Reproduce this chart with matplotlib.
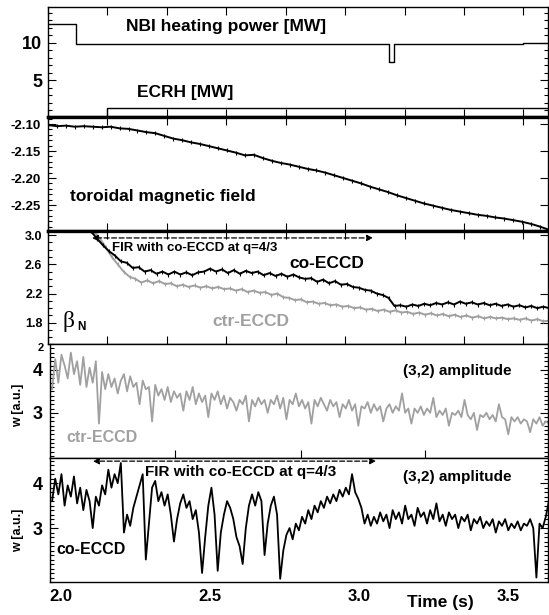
import numpy as np
import matplotlib.pyplot as plt
from matplotlib.ticker import MultipleLocator, FixedLocator, NullLocator

plt.rcParams['font.family'] = ['Liberation Sans', 'DejaVu Sans']
plt.rcParams['font.weight'] = 'bold'

# ---- values ----
nbi_t = [2.0, 2.095, 3.148, 3.165, 3.60, 3.683]
nbi_mw = [12.5, 9.9, 7.45, 9.9, 10.0, 10.0]
ecrh_t = [2.0, 2.2, 3.683]
ecrh_mw = [0.0, 1.35, 1.35]

bt_span = (2.0, 3.687)
bt = [-2.102, -2.104, -2.103, -2.105, -2.104, -2.105, -2.106, -2.105, -2.108, -2.109,
      -2.112, -2.115, -2.117, -2.122, -2.127, -2.130, -2.134, -2.137, -2.141, -2.145,
      -2.149, -2.153, -2.158, -2.157, -2.163, -2.168, -2.172, -2.175, -2.179, -2.183,
      -2.186, -2.190, -2.195, -2.200, -2.205, -2.210, -2.216, -2.221, -2.226, -2.232,
      -2.237, -2.242, -2.247, -2.251, -2.255, -2.259, -2.262, -2.265, -2.268, -2.270,
      -2.273, -2.275, -2.278, -2.281, -2.285, -2.290, -2.296]

beta_co_span = (2.145, 3.687)
beta_co = [3.05, 2.95, 2.86, 2.78, 2.72, 2.64, 2.62, 2.55, 2.56, 2.50,
           2.52, 2.47, 2.50, 2.46, 2.50, 2.46, 2.49, 2.45, 2.49, 2.50,
           2.54, 2.50, 2.53, 2.48, 2.52, 2.47, 2.51, 2.48, 2.50, 2.45,
           2.48, 2.44, 2.47, 2.43, 2.46, 2.42, 2.40, 2.41, 2.36, 2.39,
           2.34, 2.37, 2.32, 2.33, 2.29, 2.28, 2.25, 2.24, 2.20, 2.18,
           2.14, 2.03, 2.04, 2.02, 2.05, 2.03, 2.06, 2.04, 2.07, 2.05,
           2.08, 2.05, 2.09, 2.06, 2.08, 2.05, 2.07, 2.04, 2.06, 2.03,
           2.05, 2.02, 2.04, 2.01, 2.03, 2.00, 2.02, 2.00]
beta_ctr_span = (2.155, 3.687)
beta_ctr = [3.05, 2.95, 2.83, 2.70, 2.60, 2.50, 2.43, 2.40, 2.35, 2.38,
            2.34, 2.37, 2.33, 2.34, 2.30, 2.32, 2.29, 2.31, 2.28, 2.30,
            2.27, 2.29, 2.26, 2.27, 2.24, 2.26, 2.22, 2.24, 2.21, 2.22,
            2.18, 2.20, 2.15, 2.14, 2.11, 2.12, 2.08, 2.09, 2.06, 2.07,
            2.04, 2.05, 2.02, 2.03, 2.00, 2.01, 1.98, 1.99, 1.96, 1.98,
            1.95, 1.97, 1.94, 1.95, 1.92, 1.94, 1.91, 1.93, 1.90, 1.92,
            1.89, 1.91, 1.88, 1.90, 1.87, 1.89, 1.86, 1.88, 1.86, 1.87,
            1.85, 1.86, 1.84, 1.86, 1.83, 1.85, 1.82, 1.83]

w_span = (1.97, 3.637)
w_ctr = [3.55, 4.25, 3.70, 4.35, 4.10, 3.80, 4.40, 3.90, 4.20, 3.65,
         4.30, 3.60, 4.05, 3.70, 4.20, 2.75, 3.95, 3.55, 3.90, 3.60,
         3.80, 3.45, 3.75, 3.90, 3.50, 3.85, 3.60, 3.70, 3.20, 3.75,
         3.55, 3.60, 2.80, 3.65, 3.40, 3.55, 3.30, 3.60, 3.25, 3.50,
         3.35, 3.45, 3.05, 3.50, 3.30, 3.60, 3.20, 3.45, 3.25, 3.40,
         2.90, 3.45, 3.30, 3.50, 3.20, 3.40, 3.10, 3.35, 3.25, 3.05,
         3.30, 3.20, 3.40, 2.80, 3.30, 3.15, 3.35, 3.20, 3.30, 3.00,
         3.30, 3.20, 3.40, 3.10, 3.35, 2.85, 3.30, 3.20, 3.45, 3.15,
         3.30, 3.10, 3.25, 2.75, 3.30, 3.15, 3.35, 3.20, 3.05, 3.30,
         3.15, 3.25, 2.90, 3.20, 3.10, 3.30, 3.05, 3.20, 2.70, 3.15,
         3.10, 3.25, 3.00, 3.20, 3.05, 3.15, 2.80, 3.10, 3.20, 3.00,
         3.15, 3.05, 3.45, 3.00, 3.10, 2.75, 3.10, 3.00, 3.15, 2.95,
         3.10, 3.00, 3.35, 2.90, 3.05, 2.95, 3.10, 2.70, 3.00, 2.95,
         3.05, 2.90, 3.30, 2.95, 2.85, 3.00, 2.60, 2.95, 2.90, 3.00,
         2.85, 2.95, 2.80, 3.20, 2.90, 2.85, 2.50, 2.90, 2.80, 2.90,
         2.75, 2.85, 2.80, 2.55, 2.85, 2.75, 2.90, 2.70, 2.80, 2.75]
w_co = [3.60, 4.10, 3.75, 4.20, 3.50, 3.95, 3.70, 4.15, 3.55, 3.90,
        3.40, 3.85, 3.60, 3.00, 3.70, 3.50, 3.95, 3.75, 4.30, 3.90,
        4.20, 4.00, 4.45, 2.90, 3.30, 3.05, 3.45, 3.70, 3.95, 4.20,
        2.30, 3.10, 3.90, 4.05, 3.60, 3.80, 3.50, 3.75, 3.30, 2.70,
        3.20, 3.55, 3.75, 3.45, 3.60, 3.20, 3.40, 2.90, 2.00, 2.80,
        3.50, 3.90, 3.30, 2.05, 2.90, 3.30, 3.60, 3.45, 3.20, 2.80,
        2.60, 2.20, 3.00, 3.50, 3.75, 3.50, 3.80, 3.60, 2.40, 3.10,
        3.50, 3.70, 3.30, 1.87, 2.50, 2.85, 3.00, 2.75, 3.10, 2.95,
        3.25, 3.10, 3.40, 3.20, 3.50, 3.35, 3.60, 3.45, 3.70, 3.55,
        3.75, 3.60, 3.85, 3.70, 3.90, 3.75, 4.20, 3.80, 3.65, 3.45,
        3.10, 3.30, 3.05, 3.25, 3.10, 3.35, 3.15, 3.30, 3.00, 3.40,
        3.20, 3.35, 3.10, 3.50, 3.20, 3.30, 3.05, 3.45, 3.25, 3.35,
        3.10, 3.40, 3.20, 3.55, 3.15, 3.30, 3.05, 3.35, 3.20, 3.30,
        3.00, 3.25, 3.15, 3.30, 2.95, 3.20, 3.10, 3.25, 3.00, 3.15,
        3.05, 3.20, 2.90, 3.15, 3.05, 3.20, 2.95, 3.10, 3.00, 3.15,
        2.95, 3.10, 3.05, 3.20, 3.00, 1.90, 3.10, 3.00, 3.25, 3.60]

fir_beta = (2.148, 3.094, 2.96)   # start, end, level of the FIR arrow
fir_w = (2.107, 3.057, 4.49)
w4_ticks = [2.382, 2.805, 3.221]
time_ticks = [2.0, 2.5, 3.0, 3.5]

GRAY = '#a0a0a0'
W, H = 549, 615
fig = plt.figure(figsize=(W / 100, H / 100), dpi=100)


def box(l, t, r, b):
    return [l / W, 1 - b / H, (r - l) / W, (b - t) / H]


def ftext(x, y, s, **kw):
    kw.setdefault('ha', 'left')
    kw.setdefault('va', 'center')
    fig.text(x / W, 1 - y / H, s, **kw)


def style(ax, top_lw=1.0, bot_lw=1.0):
    for sp in ax.spines.values():
        sp.set_linewidth(1.0)
    ax.spines['top'].set_linewidth(top_lw)
    ax.spines['bottom'].set_linewidth(bot_lw)
    ax.tick_params(which='both', direction='in', top=True, right=True, width=0.8)
    ax.tick_params(which='major', length=6)
    ax.tick_params(which='minor', length=3)
    ax.tick_params(axis='x', labelbottom=False)


ax1 = fig.add_axes(box(48, 7, 548, 117))
ax2 = fig.add_axes(box(48, 117, 548, 231))
ax3 = fig.add_axes(box(48, 231, 548, 344))
ax4 = fig.add_axes(box(50, 344, 548, 458))
ax5 = fig.add_axes(box(50, 458, 548, 582))

# heating power
ax1.step(nbi_t, nbi_mw, where='post', color='k', lw=1.0)
ax1.step(ecrh_t, ecrh_mw, where='post', color='k', lw=1.0)
ax1.set_xlim(2.0, 3.683)
ax1.set_ylim(0.1, 14.8)
style(ax1, bot_lw=2.4)
ax1.yaxis.set_major_locator(FixedLocator([5, 10]))
ax1.yaxis.set_minor_locator(MultipleLocator(1))
ax1.tick_params(axis='y', labelsize=13, pad=4)

# toroidal field
t = np.linspace(*bt_span, len(bt))
ax2.plot(t, bt, color='k', lw=1.4, marker='|', ms=3.5, mew=0.8)
ax2.set_xlim(2.0, 3.683)
ax2.set_ylim(-2.298, -2.087)
style(ax2, top_lw=2.4, bot_lw=2.4)
ax2.yaxis.set_major_locator(FixedLocator([-2.25, -2.20, -2.15, -2.10]))
ax2.yaxis.set_minor_locator(MultipleLocator(0.01))
ax2.yaxis.set_major_formatter(lambda v, p: f'{v:.2f}')
ax2.tick_params(axis='y', labelsize=9.5, pad=5)
ax2.tick_params(axis='y', which='minor', right=False)

# beta_N
t = np.linspace(*beta_ctr_span, len(beta_ctr))
ax3.plot(t, beta_ctr, color=GRAY, lw=1.4, marker='|', ms=3.5, mew=0.8)
t = np.linspace(*beta_co_span, len(beta_co))
ax3.plot(t, beta_co, color='k', lw=1.4, marker='|', ms=3.5, mew=0.8)
ax3.set_xlim(2.0, 3.683)
ax3.set_ylim(1.51, 3.055)
style(ax3, top_lw=2.4)
ax3.yaxis.set_major_locator(FixedLocator([1.8, 2.2, 2.6, 3.0]))
ax3.yaxis.set_minor_locator(MultipleLocator(0.1))
ax3.yaxis.set_major_formatter(lambda v, p: f'{v:.1f}')
ax3.tick_params(axis='y', labelsize=9, pad=4)
ax3.tick_params(axis='y', which='minor', right=False)
ax3.annotate('', xy=(fir_beta[0], fir_beta[2]), xytext=(fir_beta[1], fir_beta[2]),
             arrowprops=dict(arrowstyle='<|-|>', ls=(0, (4, 2)), lw=0.9, color='k',
                             mutation_scale=9, shrinkA=0, shrinkB=0))

# ctr-ECCD island width
t = np.linspace(*w_span, len(w_ctr))
ax4.plot(t, w_ctr, color=GRAY, lw=1.3)
ax4.set_xlim(1.963, 3.634)
ax4.set_ylim(1.95, 4.6)
style(ax4)
ax4.xaxis.set_major_locator(FixedLocator(w4_ticks))
ax4.xaxis.set_minor_locator(NullLocator())
ax4.tick_params(axis='x', top=False)
ax4.yaxis.set_major_locator(FixedLocator([3, 4]))
ax4.yaxis.set_minor_locator(MultipleLocator(0.1))
ax4.tick_params(axis='y', labelsize=13, pad=5)

# co-ECCD island width
t = np.linspace(*w_span, len(w_co))
ax5.plot(t, w_co, color='k', lw=1.3)
ax5.set_xlim(1.963, 3.634)
ax5.set_ylim(1.8, 4.56)
style(ax5)
ax5.set_xticks(time_ticks)
ax5.xaxis.set_minor_locator(NullLocator())
ax5.tick_params(axis='x', top=False, length=0, labelbottom=True, labelsize=12, pad=5)
ax5.xaxis.set_major_formatter(lambda v, p: f'{v:.1f}')
ax5.yaxis.set_major_locator(FixedLocator([3, 4]))
ax5.yaxis.set_minor_locator(MultipleLocator(0.1))
ax5.tick_params(axis='y', labelsize=13, pad=5)
ax5.annotate('', xy=(fir_w[0], fir_w[2]), xytext=(fir_w[1], fir_w[2]),
             arrowprops=dict(arrowstyle='<|-|>', ls=(0, (4, 2)), lw=0.9, color='k',
                             mutation_scale=9, shrinkA=0, shrinkB=0))

# labels
ftext(126, 26, 'NBI heating power [MW]', fontsize=12.5)
ftext(137, 93, 'ECRH [MW]', fontsize=12.5)
ftext(70, 196, 'toroidal magnetic field', fontsize=12.5)
ftext(112, 248, 'FIR with co-ECCD at q=4/3', fontsize=9.5)
ftext(289, 263, 'co-ECCD', fontsize=12.5)
ftext(212, 322, 'ctr-ECCD', fontsize=12.5, color=GRAY)
ftext(63, 322, '\u03b2', fontsize=17, fontweight='normal',
      family=['Liberation Serif', 'DejaVu Serif'])
ftext(77, 327, 'N', fontsize=8.5)
ftext(38, 348, '2', fontsize=8)
ftext(403, 371, '(3,2) amplitude', fontsize=11)
ftext(66, 437, 'ctr-ECCD', fontsize=11.5, color=GRAY)
ftext(18, 405, 'w [a.u.]', fontsize=9, rotation=90, ha='center')
ftext(145, 472, 'FIR with co-ECCD at q=4/3', fontsize=11)
ftext(403, 477, '(3,2) amplitude', fontsize=11)
ftext(56, 550, 'co-ECCD', fontsize=11.5)
ftext(18, 530, 'w [a.u.]', fontsize=9, rotation=90, ha='center')
ftext(440, 603, 'Time (s)', fontsize=12.5, ha='center')

fig.savefig('out.png', dpi=100)
